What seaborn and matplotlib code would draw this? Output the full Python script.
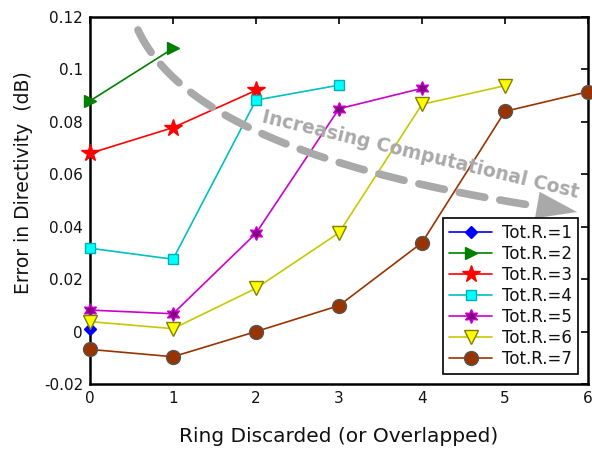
import numpy as np
import pandas as pd
import matplotlib
matplotlib.use("Agg")
import matplotlib.pyplot as plt
import seaborn as sns
from matplotlib.lines import Line2D

sns.set_theme(style="white")
plt.rcParams["font.family"] = ["DejaVu Sans"]

# Error in directivity (dB) versus number of rings discarded, per total ring count
rings_r1 = [0]
err_r1 = [0.001]
rings_r2 = [0, 1]
err_r2 = [0.088, 0.108]
rings_r3 = [0, 1, 2]
err_r3 = [0.068, 0.0778, 0.092]
rings_r4 = [0, 1, 2, 3]
err_r4 = [0.0318, 0.0276, 0.0883, 0.094]
rings_r5 = [0, 1, 2, 3, 4]
err_r5 = [0.0082, 0.0068, 0.0375, 0.085, 0.0928]
rings_r6 = [0, 1, 2, 3, 4, 5]
err_r6 = [0.0038, 0.0011, 0.0165, 0.0377, 0.0867, 0.0938]
rings_r7 = [0, 1, 2, 3, 4, 5, 6]
err_r7 = [-0.0068, -0.0096, 0.0, 0.0099, 0.0339, 0.084, 0.0915]

labels = ["Tot.R.=1", "Tot.R.=2", "Tot.R.=3", "Tot.R.=4",
          "Tot.R.=5", "Tot.R.=6", "Tot.R.=7"]
xticks = [0, 1, 2, 3, 4, 5, 6]
yticks = [-0.02, 0, 0.02, 0.04, 0.06, 0.08, 0.1, 0.12]
ytick_labels = ["-0.02", "0", "0.02", "0.04", "0.06", "0.08", "0.1", "0.12"]

series = [(rings_r1, err_r1), (rings_r2, err_r2), (rings_r3, err_r3),
          (rings_r4, err_r4), (rings_r5, err_r5), (rings_r6, err_r6),
          (rings_r7, err_r7)]

styles = [
    dict(color="#0000ff", marker="D", ms=6.5, mfc="#0000ff", mec="#0000ff"),
    dict(color="#008000", marker=">", ms=9, mfc="#008000", mec="#008000"),
    dict(color="#ff0000", marker="*", ms=13, mfc="#ff0000", mec="#ff0000"),
    dict(color="#00c0c0", marker="s", ms=7, mfc="#00ffff", mec="#00b0b0"),
    dict(color="#cc00cc", marker=(6, 1, 0), ms=10, mfc="#800080", mec="#cc00cc"),
    dict(color="#c8c800", marker="v", ms=10, mfc="#ffff00", mec="#808000"),
    dict(color="#993300", marker="o", ms=10, mfc="#993300", mec="#555555"),
]

fig = plt.figure(figsize=(5.92, 4.51), dpi=100)
ax = fig.add_axes([90 / 592, 1 - 384 / 451, (588 - 90) / 592, (384 - 17) / 451])

for (xs, ys), lab, st in zip(series, labels, styles):
    df = pd.DataFrame({"ring": xs, "err": ys})
    sns.lineplot(data=df, x="ring", y="err", ax=ax, label=lab,
                 color=st["color"], marker=st["marker"], markersize=st["ms"],
                 markerfacecolor=st["mfc"], markeredgecolor=st["mec"],
                 markeredgewidth=1.0, linewidth=1.2, clip_on=False, zorder=3)

ax.set_xlim(0, 6)
ax.set_ylim(-0.02, 0.12)
ax.set_xticks(xticks)
ax.set_xticklabels([str(t) for t in xticks])
ax.set_yticks(yticks)
ax.set_yticklabels(ytick_labels)
ax.tick_params(axis="both", direction="in", length=5, width=1.2, color="black",
               labelsize=11, labelcolor="#111111", top=True, right=True,
               pad=5)
for sp in ax.spines.values():
    sp.set_color("black")
    sp.set_linewidth(1.8)

ax.set_xlabel("Ring Discarded (or Overlapped)", fontsize=14.5, color="#111111",
              labelpad=15)
ax.set_ylabel("Error in Directivity  (dB)", fontsize=13.5, color="#111111")
ax.yaxis.set_label_coords(-0.115, 0.55)

leg = ax.legend(loc="lower right", fontsize=12, frameon=True, fancybox=False,
                edgecolor="black", framealpha=1, handlelength=2.6,
                borderpad=0.35, labelspacing=0.18, handletextpad=0.6,
                borderaxespad=0.6)
leg.get_frame().set_linewidth(1.2)
for t in leg.get_texts():
    t.set_color("#111111")

# Curved dashed arrow indicating increasing computational cost (figure pixels)
H = 451
p0 = np.array([138.0, 30.0])
c = np.array([198.0, 160.0])
p2 = np.array([577.0, 212.0])
t = np.linspace(0, 0.93, 200)
curve = ((1 - t)[:, None] ** 2) * p0 + (2 * t * (1 - t))[:, None] * c + (t ** 2)[:, None] * p2
gray = "#a9a9a9"
fig.add_artist(Line2D(curve[:, 0] / 592, 1 - curve[:, 1] / H, color=gray,
                      linewidth=5.5, linestyle=(0, (3.4, 2.0)),
                      solid_capstyle="round", dash_capstyle="round"))
ax.annotate("", xy=(p2[0], H - p2[1]), xytext=(p2[0] - 40, H - p2[1] + 7),
            xycoords="figure pixels", textcoords="figure pixels",
            arrowprops=dict(arrowstyle="-|>,head_length=2.4,head_width=0.8",
                            color=gray, lw=0.1, shrinkA=0, shrinkB=0))

fig.text(420 / 592, 1 - 155 / H, "Increasing Computational Cost",
         fontsize=13.5, fontweight="bold", color=gray, rotation=-13.5,
         ha="center", va="center", rotation_mode="anchor")

fig.savefig("out.png", dpi=100)
